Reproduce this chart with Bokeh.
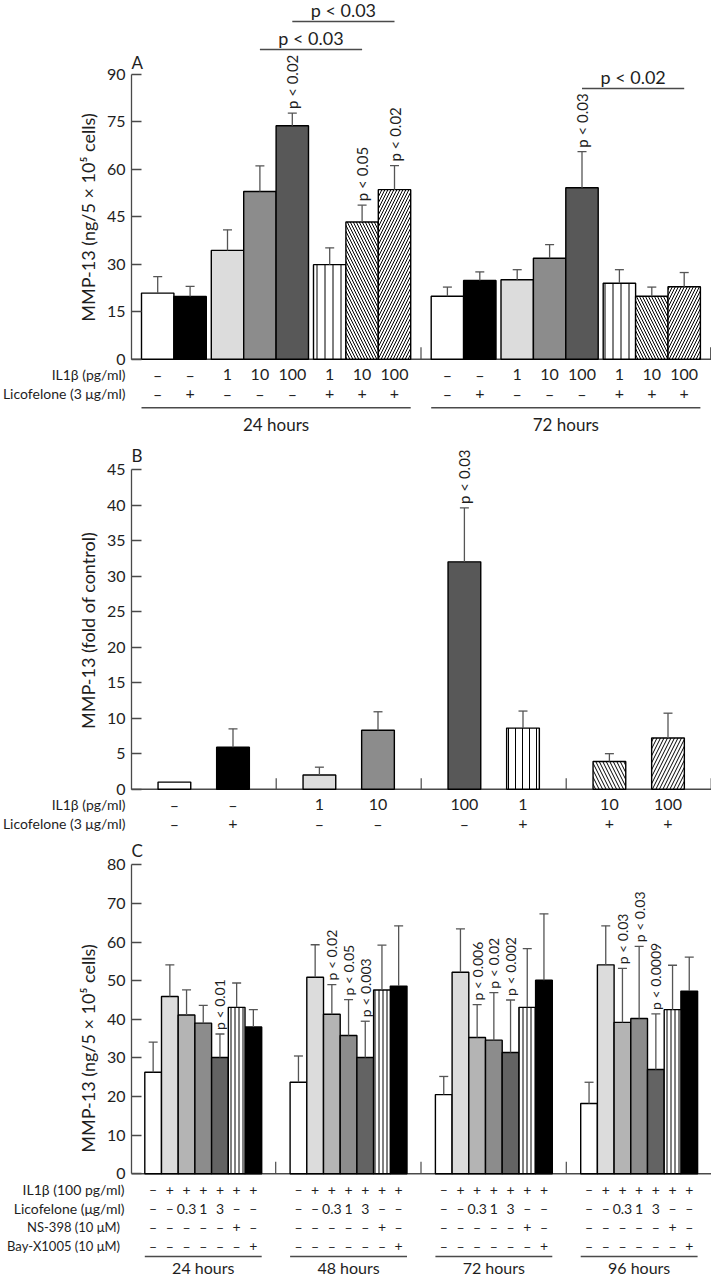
import math
from bokeh.plotting import figure
from bokeh.models import Range1d, FixedTicker, LinearAxis
from bokeh.layouts import column
from bokeh.embed import file_html
from bokeh.resources import INLINE
from bokeh.core.properties import value

# ======================= DATA =======================
# ---- Panel A: MMP-13 (ng/5 x 10^5 cells), 24 h and 72 h ----
a_times = ["24 hours", "72 hours"]
a_il1b = ["–", "–", "1", "10", "100", "1", "10", "100"]
a_lico = ["–", "+", "–", "–", "–", "+", "+", "+"]
a_mean_24 = [20.9, 19.8, 34.4, 53.0, 73.8, 29.9, 43.4, 53.6]
a_sem_24 = [5.2, 3.2, 6.5, 8.1, 4.0, 5.3, 5.3, 7.6]
a_mean_72 = [19.9, 24.9, 25.1, 31.9, 54.2, 24.0, 19.9, 22.9]
a_sem_72 = [2.9, 2.7, 3.2, 4.3, 11.4, 4.3, 2.9, 4.5]
a_p_24 = ["", "", "", "", "p < 0.02", "", "p < 0.05", "p < 0.02"]
a_p_72 = ["", "", "", "", "p < 0.03", "", "", ""]
a_ticks = [0, 15, 30, 45, 60, 75, 90]
# comparisons: (time, bar i, bar j, label)
a_comp = [(0, 4, 7, "p < 0.03"), (0, 3, 6, "p < 0.03"), (1, 4, 7, "p < 0.02")]

# ---- Panel B: MMP-13 (fold of control) ----
b_il1b = ["–", "–", "1", "10", "100", "1", "10", "100"]
b_lico = ["–", "+", "–", "–", "–", "+", "+", "+"]
b_mean = [1.0, 5.9, 2.0, 8.3, 32.0, 8.6, 3.9, 7.2]
b_sem = [0.0, 2.6, 1.1, 2.6, 7.6, 2.4, 1.1, 3.5]
b_p = ["", "", "", "", "p < 0.03", "", "", ""]
b_ticks = [0, 5, 10, 15, 20, 25, 30, 35, 40, 45]

# ---- Panel C: MMP-13 (ng/5 x 10^5 cells), 24-96 h ----
c_times = ["24 hours", "48 hours", "72 hours", "96 hours"]
c_il1b = ["–", "+", "+", "+", "+", "+", "+"]
c_lico = ["–", "–", "0.3", "1", "3", "–", "–"]
c_ns398 = ["–", "–", "–", "–", "–", "+", "–"]
c_bay = ["–", "–", "–", "–", "–", "–", "+"]
c_mean_24 = [26.3, 45.9, 41.1, 39.0, 30.1, 43.1, 38.0]
c_sem_24 = [7.8, 8.2, 6.5, 4.6, 6.1, 6.3, 4.5]
c_mean_48 = [23.7, 50.9, 41.3, 35.8, 30.1, 47.6, 48.6]
c_sem_48 = [6.8, 8.4, 7.7, 9.3, 9.4, 11.6, 15.6]
c_mean_72 = [20.5, 52.2, 35.3, 34.6, 31.4, 43.1, 50.1]
c_sem_72 = [4.7, 11.2, 8.5, 12.3, 13.6, 15.2, 17.2]
c_mean_96 = [18.2, 54.1, 39.2, 40.2, 27.0, 42.5, 47.3]
c_sem_96 = [5.5, 10.1, 14.0, 18.7, 14.4, 11.5, 8.8]
c_p_24 = ["", "", "", "", "p < 0.01", "", ""]
c_p_48 = ["", "", "p < 0.02", "p < 0.05", "p < 0.003", "", ""]
c_p_72 = ["", "", "p < 0.006", "p < 0.02", "p < 0.002", "", ""]
c_p_96 = ["", "", "p < 0.03", "p < 0.03", "p < 0.0009", "", ""]
c_ticks = [0, 10, 20, 30, 40, 50, 60, 70, 80]

# ======================= STYLE / LAYOUT =======================
FONT = "Lato"
TXT = "#1e1e1e"
AX = "#4a4a4a"
W = 711
AXIS_X = 131

a_fill = ["white", "black", "#dcdcdc", "#8c8c8c", "#585858", "white", "white", "white"]
a_hatch = [None, None, None, None, None, "|", "\\", "/"]
c_fill = ["white", "#dcdcdc", "#b4b4b4", "#8c8c8c", "#636363", "white", "black"]
c_hatch = [None, None, None, None, None, "|", None]


def make_fig(height, ry_top, ry_bot, y0px, ppu, ticks):
    p = figure(width=W, height=height,
               x_range=Range1d(0, W),
               y_range=Range1d((y0px - ry_bot) / ppu, (y0px - ry_top) / ppu),
               output_backend="svg", toolbar_location=None,
               x_axis_location=None, y_axis_location=None,
               min_border_left=0, min_border_right=0,
               min_border_top=0, min_border_bottom=0)
    p.grid.visible = False
    p.outline_line_color = None
    ax = LinearAxis(fixed_location=AXIS_X)
    ax.ticker = FixedTicker(ticks=ticks)
    ax.bounds = (ticks[0], ticks[-1])
    ax.major_tick_in = 10
    ax.major_tick_out = 0
    ax.minor_tick_line_color = None
    ax.axis_line_color = AX
    ax.axis_line_width = 1.3
    ax.major_tick_line_color = AX
    ax.major_tick_line_width = 1.3
    ax.major_label_standoff = 6
    ax.major_label_text_font = FONT
    ax.major_label_text_font_size = "16px"
    ax.major_label_text_color = TXT
    p.add_layout(ax, "left")
    return p


def Yf(y0px, ppu):
    return lambda ry: (y0px - ry) / ppu


def draw_bars(p, xs, means, sems, width, fills, hatches, hscale, ppu, pvals, psize):
    solid = [i for i, h in enumerate(hatches) if h is None]
    p.vbar(x=[xs[i] for i in solid], top=[means[i] for i in solid], bottom=0,
           width=width, fill_color=[fills[i] for i in solid],
           line_color="black", line_width=1.4)
    for i, h in enumerate(hatches):
        if h is None:
            continue
        p.vbar(x=[xs[i]], top=[means[i]], bottom=0, width=width,
               fill_color="white", line_color="black", line_width=1.4,
               hatch_pattern=h, hatch_color="black", hatch_weight=1.0,
               hatch_scale=hscale[h])
    ex = [xs[i] for i in range(len(xs)) if sems[i] > 0]
    eb = [means[i] for i in range(len(xs)) if sems[i] > 0]
    et = [means[i] + sems[i] for i in range(len(xs)) if sems[i] > 0]
    p.segment(x0=ex, y0=eb, x1=ex, y1=et, line_color="#555555", line_width=1.3)
    p.segment(x0=[x - 4.5 for x in ex], y0=et, x1=[x + 4.5 for x in ex], y1=et,
              line_color="#555555", line_width=1.3)
    tx = [xs[i] for i in range(len(xs)) if pvals[i]]
    ty = [means[i] + sems[i] + 4.0 / ppu for i in range(len(xs)) if pvals[i]]
    tt = [pvals[i] for i in range(len(xs)) if pvals[i]]
    if tt:
        p.text(x=tx, y=ty, text=tt, angle=math.pi / 2, text_align="left",
               text_baseline="middle", text_font=value(FONT),
               text_font_size=psize, text_color=TXT)


def txt(p, xs, ys, texts, size, align="center", angle=0.0):
    p.text(x=xs, y=ys, text=texts, text_align=align, text_baseline="middle",
           angle=angle, text_font=value(FONT), text_font_size=size, text_color=TXT)


def axis_title(p, text, ry, Y):
    txt(p, [87], [Y(ry)], [text], "18px", angle=math.pi / 2)


# ======================= PANEL A =======================
y0A, ppuA = 358.7, 3.163
YA = Yf(y0A, ppuA)
pA = make_fig(436, 0, 436, y0A, ppuA, a_ticks)
BW_A, GAP_A = 32.4, 5.0
SUB_A = [0, 0, 1, 1, 1, 2, 2, 2]
gstart_A = [141.0, 430.7]
a_means = [a_mean_24, a_mean_72]
a_sems = [a_sem_24, a_sem_72]
a_ps = [a_p_24, a_p_72]
a_x = []
for g in range(len(a_times)):
    xs = [gstart_A[g] + i * BW_A + GAP_A * SUB_A[i] + BW_A / 2 for i in range(len(a_il1b))]
    a_x.append(xs)
pA.segment(x0=[AXIS_X], y0=[0], x1=[W], y1=[0], line_color=AX, line_width=1.4)
gt = [gstart_A[g] + 8 * BW_A + 2 * GAP_A + 10.3 for g in range(2)]
pA.segment(x0=gt, y0=[0] * 2, x1=gt, y1=[12 / ppuA] * 2, line_color=AX, line_width=1.2)
for g in range(2):
    draw_bars(pA, a_x[g], a_means[g], a_sems[g], BW_A, a_fill, a_hatch,
              {"|": 8, "\\": 6, "/": 6}, ppuA, a_ps[g], "15px")
    txt(pA, a_x[g], [YA(374)] * 8, a_il1b, "16px")
    txt(pA, a_x[g], [YA(393)] * 8, a_lico, "16px")
    x0 = a_x[g][0] - BW_A / 2
    x1 = a_x[g][-1] + BW_A / 2
    pA.segment(x0=[x0], y0=[YA(407.3)], x1=[x1], y1=[YA(407.3)], line_color=AX, line_width=1.5)
    txt(pA, [(x0 + x1) / 2], [YA(424)], [a_times[g]], "17px")
levels = [21, 49, 88]
for (g, i, j, lab), lv in zip(a_comp, levels):
    pA.segment(x0=[a_x[g][i]], y0=[YA(lv)], x1=[a_x[g][j]], y1=[YA(lv)], line_color=AX, line_width=1.3)
    txt(pA, [(a_x[g][i] + a_x[g][j]) / 2], [YA(lv - 12)], [lab], "18px")
txt(pA, [131], [YA(62)], ["A"], "17px", align="left")
txt(pA, [125, 125], [YA(374), YA(393)], ["IL1β (pg/ml)", "Licofelone (3 μg/ml)"], "14px", align="right")
axis_title(pA, "MMP-13 (ng/5 × 10⁵ cells)", 217, YA)

# ======================= PANEL B =======================
y0B, ppuB = 788.7, 7.104
YB = Yf(y0B, ppuB)
pB = make_fig(404, 436, 840, y0B, ppuB, b_ticks)
BW_B = 32.7
b_x = []
for i in range(len(b_mean)):
    pc = 203.2 + 145.0 * (i // 2)
    b_x.append(pc + (-29.3 if i % 2 == 0 else 29.3))
pB.segment(x0=[AXIS_X], y0=[0], x1=[W], y1=[0], line_color=AX, line_width=1.4)
bt = [203.2 + 145.0 * k + 72.5 for k in range(4)]
pB.segment(x0=bt, y0=[0] * 4, x1=bt, y1=[11 / ppuB] * 4, line_color=AX, line_width=1.2)
draw_bars(pB, b_x, b_mean, b_sem, BW_B, a_fill, a_hatch,
          {"|": 7, "\\": 7, "/": 7}, ppuB, b_p, "15px")
txt(pB, b_x, [YB(804)] * 8, b_il1b, "16px")
txt(pB, b_x, [YB(823.3)] * 8, b_lico, "16px")
txt(pB, [131], [YB(455)], ["B"], "17px", align="left")
txt(pB, [125, 125], [YB(804), YB(823.3)], ["IL1β (pg/ml)", "Licofelone (3 μg/ml)"], "14px", align="right")
axis_title(pB, "MMP-13 (fold of control)", 630, YB)

# ======================= PANEL C =======================
y0C, ppuC = 1173.3, 3.8625
YC = Yf(y0C, ppuC)
pC = make_fig(439, 840, 1279, y0C, ppuC, c_ticks)
BW_C = 16.7
c_means = [c_mean_24, c_mean_48, c_mean_72, c_mean_96]
c_sems = [c_sem_24, c_sem_48, c_sem_72, c_sem_96]
c_ps = [c_p_24, c_p_48, c_p_72, c_p_96]
pC.segment(x0=[AXIS_X], y0=[0], x1=[W], y1=[0], line_color=AX, line_width=1.4)
ct = [144.3 + 145.3 * g + 7 * BW_C + 14.0 for g in range(4)]
pC.segment(x0=ct, y0=[0] * 4, x1=ct, y1=[12 / ppuC] * 4, line_color=AX, line_width=1.2)
for g in range(len(c_times)):
    gs = 144.3 + 145.3 * g
    xs = [gs + (i + 0.5) * BW_C for i in range(len(c_il1b))]
    draw_bars(pC, xs, c_means[g], c_sems[g], BW_C, c_fill, c_hatch,
              {"|": 4}, ppuC, c_ps[g], "14px")
    txt(pC, xs, [YC(1189.3)] * 7, c_il1b, "14px")
    txt(pC, xs, [YC(1208.3)] * 7, c_lico, "14px")
    txt(pC, xs, [YC(1226.7)] * 7, c_ns398, "14px")
    txt(pC, xs, [YC(1245.7)] * 7, c_bay, "14px")
    pC.segment(x0=[gs], y0=[YC(1256)], x1=[gs + 7 * BW_C], y1=[YC(1256)], line_color=AX, line_width=1.5)
    txt(pC, [gs + 3.5 * BW_C], [YC(1267)], [c_times[g]], "16px")
txt(pC, [131], [YC(850)], ["C"], "17px", align="left")
txt(pC, [124, 124], [YC(1189.3), YC(1208.3)], ["IL1β (100 pg/ml)", "Licofelone (μg/ml)"], "14px", align="right")
txt(pC, [119.5, 119.5], [YC(1226.7), YC(1245.7)], ["NS-398 (10 μM)", "Bay-X1005 (10 μM)"], "13px", align="right")
axis_title(pC, "MMP-13 (ng/5 × 10⁵ cells)", 1048, YC)

layout = column(pA, pB, pC, spacing=0)
open("out.html", "w").write(file_html(layout, INLINE))
